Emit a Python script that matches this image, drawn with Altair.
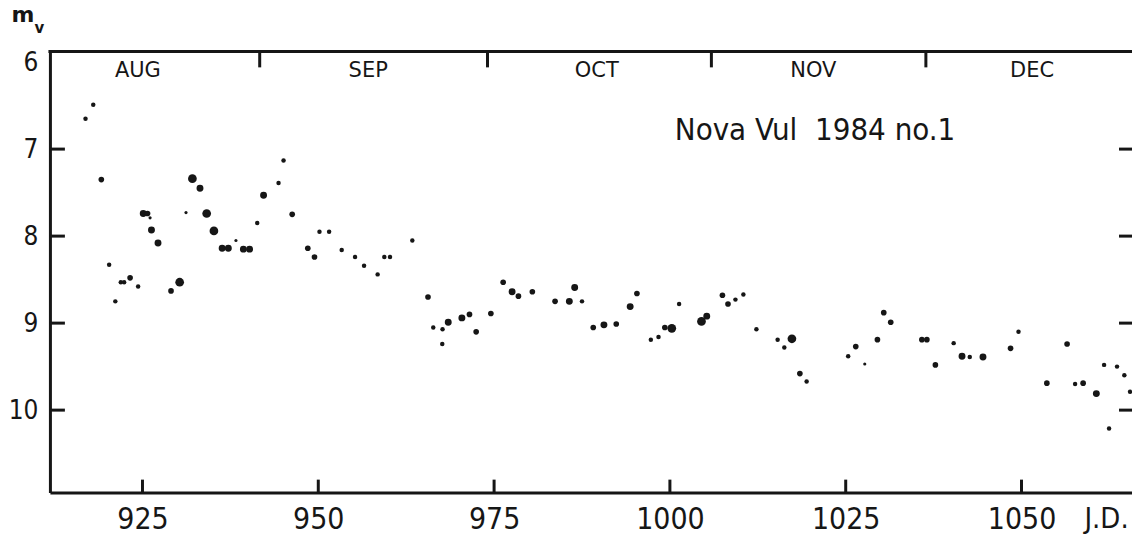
import altair as alt
import pandas as pd

# ---- data (J.D. - 2445000, visual magnitude, dot weight class) ----
jd = [916.9, 918.0, 919.15, 920.26, 921.14, 921.92, 922.39, 923.24, 924.38, 925.11,
      925.72, 926.08, 926.28, 927.21, 929.06, 930.29, 931.19, 932.10, 933.18, 934.13,
      935.16, 936.33, 937.21, 938.29, 939.35, 940.23, 941.32, 942.22, 944.35, 945.06,
      946.29, 948.51, 949.46, 950.17, 951.54, 953.33, 955.23, 956.51, 958.44, 959.39,
      960.20, 963.37, 965.60, 966.35, 967.67, 968.48, 967.63, 970.42, 971.50, 972.45,
      974.54, 976.29, 977.56, 978.46, 980.44, 983.67, 985.70, 986.46, 987.50, 989.10,
      990.62, 992.37, 994.35, 995.31, 997.29, 998.38, 999.28, 1000.27, 1001.31, 1004.49,
      1005.24, 1007.47, 1008.26, 1009.32, 1010.45, 1012.30, 1015.32, 1016.27, 1017.35, 1018.48,
      1019.44, 1025.35, 1026.43, 1027.71, 1029.51, 1030.41, 1031.40, 1035.83, 1036.54, 1037.75,
      1040.35, 1041.54, 1042.64, 1044.52, 1048.44, 1049.57, 1053.60, 1056.48, 1057.62, 1058.76,
      1060.64, 1061.74, 1062.45, 1063.58, 1064.62, 1065.43]
mag = [6.65, 6.49, 7.35, 8.33, 8.75, 8.53, 8.53, 8.48, 8.58, 7.74,
       7.74, 7.79, 7.93, 8.08, 8.63, 8.53, 7.73, 7.34, 7.45, 7.74,
       7.94, 8.14, 8.14, 8.05, 8.15, 8.15, 7.85, 7.53, 7.39, 7.13,
       7.75, 8.14, 8.24, 7.95, 7.95, 8.16, 8.24, 8.34, 8.44, 8.24,
       8.24, 8.05, 8.70, 9.05, 9.07, 8.99, 9.24, 8.94, 8.90, 9.10,
       8.89, 8.53, 8.64, 8.69, 8.64, 8.75, 8.75, 8.59, 8.75, 9.05,
       9.02, 9.01, 8.81, 8.66, 9.19, 9.16, 9.05, 9.06, 8.78, 8.98,
       8.92, 8.68, 8.78, 8.73, 8.67, 9.07, 9.19, 9.28, 9.18, 9.58,
       9.67, 9.38, 9.27, 9.47, 9.19, 8.88, 8.99, 9.19, 9.19, 9.48,
       9.23, 9.38, 9.39, 9.39, 9.29, 9.10, 9.69, 9.24, 9.70, 9.69,
       9.81, 9.48, 10.21, 9.50, 9.60, 9.79]
weight = [2, 2, 3, 2, 2, 2, 2, 3, 2, 4,
          3, 1, 4, 4, 3, 5, 1, 5, 4, 5,
          5, 4, 4, 1, 4, 4, 2, 4, 2, 2,
          3, 3, 3, 2, 2, 2, 2, 2, 2, 2,
          2, 2, 3, 2, 2, 4, 2, 4, 3, 3,
          3, 3, 4, 3, 3, 3, 4, 4, 2, 3,
          4, 3, 4, 3, 2, 2, 3, 5, 2, 5,
          4, 3, 3, 2, 2, 2, 2, 2, 5, 3,
          2, 2, 3, 1, 3, 3, 3, 3, 3, 3,
          2, 4, 2, 4, 3, 2, 3, 3, 2, 3,
          4, 2, 2, 2, 2, 2]

months = ["AUG", "SEP", "OCT", "NOV", "DEC"]
month_label_jd = [924.35, 957.1, 989.6, 1020.4, 1051.5]
month_start_jd = [941.67, 974.06, 1005.9, 1036.4]
x_ticks = [925, 950, 975, 1000, 1025, 1050]
y_labels = [6, 7, 8, 9, 10]
y_ticks = [7, 8, 9, 10]
title_text = "Nova Vul\u00a0 1984 no.1"

# ---- layout / style ----
W, H = 1084, 442
X_DOMAIN = [911.84, 1065.71]
Y_DOMAIN = [5.877, 10.948]
INK = "#161616"
NUM_FONT = "DejaVu Sans Condensed, DejaVu Sans, sans-serif"

xs = alt.Scale(domain=X_DOMAIN, nice=False, zero=False)
ys = alt.Scale(domain=Y_DOMAIN, reverse=True, nice=False, zero=False)

x_axis = alt.Axis(
    values=x_ticks, format="d", ticks=False, tickSize=0, grid=False,
    domainColor=INK, domainWidth=3,
    labelFont=NUM_FONT, labelFontSize=30, labelColor=INK, labelPadding=36,
    labelBaseline="alphabetic", labelFlush=False, labelOverlap=False,
    title="J.D.", titleFont=NUM_FONT, titleFontSize=29, titleFontWeight="normal",
    titleColor=INK, titleX=1058, titleY=35, titleBaseline="alphabetic", titleAlign="center")
y_axis = alt.Axis(
    values=y_labels, ticks=False, tickSize=0, grid=False,
    domainColor=INK, domainWidth=3,
    labelFont=NUM_FONT, labelFontSize=26, labelColor=INK, labelPadding=12,
    labelBaseline="middle", labelFlush=False, labelOverlap=False, title=None)


def X():
    return alt.X("jd:Q", scale=xs, axis=x_axis)


def Y():
    return alt.Y("mag:Q", scale=ys, axis=y_axis)


pts = pd.DataFrame({"jd": jd, "mag": mag, "w": weight})

points = alt.Chart(pts).mark_circle(color=INK, opacity=1).encode(
    x=X(), y=Y(),
    size=alt.Size("w:Q", scale=alt.Scale(type="linear", domain=[1, 2, 3, 4, 5],
                                         range=[10, 20, 32, 48, 76]), legend=None),
)

ytick_df = pd.DataFrame({"mag": y_ticks})
left_ticks = alt.Chart(ytick_df).mark_rule(color=INK, strokeWidth=3).encode(
    y=Y(), x=alt.value(0), x2=alt.value(15))
right_ticks = alt.Chart(ytick_df).mark_rule(color=INK, strokeWidth=3).encode(
    y=Y(), x=alt.value(W - 13), x2=alt.value(W))

bottom_ticks = alt.Chart(pd.DataFrame({"jd": x_ticks})).mark_rule(color=INK, strokeWidth=3).encode(
    x=X(), y=alt.value(H), y2=alt.value(H - 13))
top_ticks = alt.Chart(pd.DataFrame({"jd": month_start_jd})).mark_rule(color=INK, strokeWidth=3).encode(
    x=X(), y=alt.value(0), y2=alt.value(16))

one = pd.DataFrame({"k": [0]})
top_line = alt.Chart(one).mark_rule(color=INK, strokeWidth=3).encode(
    x=alt.value(-1.5), x2=alt.value(W), y=alt.value(0))

month_text = alt.Chart(pd.DataFrame({"jd": month_label_jd, "m": months})).mark_text(
    font="DejaVu Sans", fontSize=21, color=INK, align="center", baseline="alphabetic").encode(
    x=X(), y=alt.value(26), text="m:N")

title = alt.Chart(pd.DataFrame({"t": [title_text]})).mark_text(
    font="DejaVu Sans Condensed", fontSize=31, color=INK, align="left", baseline="alphabetic").encode(
    x=alt.value(626), y=alt.value(89), text="t:N")

m_label = alt.Chart(pd.DataFrame({"t": ["m"]})).mark_text(
    font="DejaVu Sans", fontSize=22, fontWeight="bold", color=INK, align="center", baseline="alphabetic").encode(
    x=alt.value(-27), y=alt.value(-29), text="t:N")
v_label = alt.Chart(pd.DataFrame({"t": ["v"]})).mark_text(
    font="DejaVu Sans", fontSize=15, fontWeight="bold", color=INK, align="center", baseline="alphabetic").encode(
    x=alt.value(-10.5), y=alt.value(-18), text="t:N")

chart = alt.layer(
    points, left_ticks, right_ticks, bottom_ticks, top_ticks, top_line,
    month_text, title, m_label, v_label,
).properties(
    width=W, height=H, autosize="none", background="white",
    padding={"left": 42, "top": 43, "right": 0, "bottom": 42},
).configure_view(stroke="transparent")

chart.save("out.html", embed_options={"renderer": "svg", "actions": False})
